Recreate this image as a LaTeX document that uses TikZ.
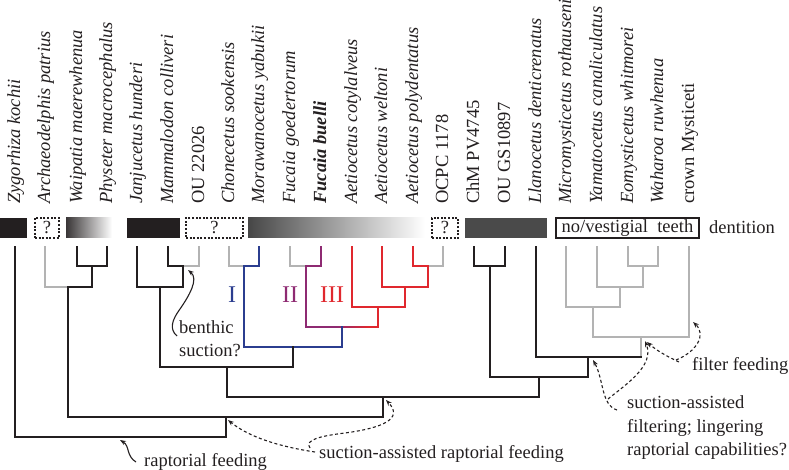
\documentclass[tikz,border=0pt]{standalone}
\usepackage{fontspec}
\setmainfont{Liberation Serif}
\usetikzlibrary{arrows.meta}
\definecolor{ink}{HTML}{231F20}
\definecolor{lgray}{HTML}{B3B3B3}
\definecolor{cblue}{HTML}{2B3D8F}
\definecolor{cpurp}{HTML}{8E2A72}
\definecolor{cred}{HTML}{E0282E}
\definecolor{dbar}{HTML}{4A4A4A}
\begin{document}
\begin{tikzpicture}[x=1pt,y=-1pt,
  br/.style={line width=1.8pt, line cap=rect, line join=miter, draw=ink},
  lab/.style={rotate=90, anchor=base west, inner sep=0pt, text=ink, font=\fontsize{18.5}{20}\selectfont\itshape},
  labr/.style={lab, font=\fontsize{18.5}{20}\selectfont},
  bar/.style={inner sep=0pt, minimum height=20pt, draw=none},
  qbox/.style={inner sep=0pt, minimum height=20pt, draw=ink, line width=1.2pt, dash pattern=on 2pt off 1.6pt, font=\fontsize{18.5}{20}\selectfont, text=ink},
  ann/.style={anchor=base west, inner sep=0pt, text=ink, font=\fontsize{18.5}{22}\selectfont},
  roman/.style={anchor=base, inner sep=0pt, font=\fontsize{24}{26}\selectfont},
  arr/.style={-{Stealth[length=6pt,width=4.5pt]}, line width=1.1pt, draw=ink},
  darr/.style={arr, dash pattern=on 3pt off 2.5pt}]
\useasboundingbox (0,0) rectangle (789,470);

% ---- taxon labels ----
\node[lab]  (L1)  at (20,204)  {Zygorhiza kochii};
\node[lab]  (L2)  at (50,204)  {Archaeodelphis patrius};
\node[lab]  (L3)  at (82,204)  {Waipatia maerewhenua};
\node[lab]  (L4)  at (112,204) {Physeter macrocephalus};
\node[lab]  (L5)  at (142,204) {Janjucetus hunderi};
\node[lab]  (L6)  at (173,204) {Mammalodon colliveri};
\node[labr] (L7)  at (204,204) {OU 22026};
\node[lab]  (L8)  at (234,204) {Chonecetus sookensis};
\node[lab]  (L9)  at (264,204) {Morawanocetus yabukii};
\node[lab]  (L10) at (295,204) {Fucaia goedertorum};
\node[lab]  (L11) at (326,204) {\bfseries Fucaia buelli};
\node[lab]  (L12) at (357,204) {Aetiocetus cotylalveus};
\node[lab]  (L13) at (387,204) {Aetiocetus weltoni};
\node[lab]  (L14) at (418,204) {Aetiocetus polydentatus};
\node[labr] (L15) at (448,204) {OCPC 1178};
\node[labr] (L16) at (479,204) {ChM PV4745};
\node[labr] (L17) at (510,204) {OU GS10897};
\node[lab]  (L18) at (541,204) {Llanocetus denticrenatus};
\node[lab]  (L19) at (571,204) {Micromysticetus rothauseni};
\node[lab]  (L20) at (602,204) {Yamatocetus canaliculatus};
\node[lab]  (L21) at (633,204) {Eomysticetus whitmorei};
\node[lab]  (L22) at (663,204) {Waharoa ruwhenua};
\node[labr] (L23) at (694,204) {crown Mysticeti};

% ---- dentition bar ----
\node[bar, fill=ink, minimum width=27pt] (b1) at (13.5,228) {};
\node[qbox, minimum width=24pt] (b2) at (47,228) {?};
\node[bar, minimum width=46pt, left color=ink!90, right color=white] (b3) at (89,228) {};
\node[bar, fill=ink, minimum width=53pt] (b4) at (153.5,228) {};
\node[qbox, minimum width=57pt] (b5) at (214.5,228) {?};
\node[bar, minimum width=177pt, left color=dbar!95!black, right color=white] (b6) at (336.5,228) {};
\node[qbox, minimum width=26pt] (b7) at (445,228) {?};
\node[bar, fill=dbar, minimum width=82pt] (b8) at (506,228) {};
\node[draw=ink, line width=1.2pt, inner sep=0pt, minimum width=143pt, minimum height=20pt, font=\fontsize{18.5}{20}\selectfont, text=ink] (b9) at (627.5,228) {no/vestigial\ \ teeth};
\node[ann] (dent) at (709,234) {dentition};

% ---- tips ----
\foreach \i/\x in {1/15,2/45,3/77,4/107,5/137,6/168,7/199,8/229,9/259,10/290,11/321,12/352,13/382,14/413,15/443,16/474,17/505,18/536,19/566,20/597,21/628,22/658,23/689}
  \coordinate (t\i) at (\x,247);

% ---- internal nodes ----
\coordinate (nWP)   at (92,266);
\coordinate (nArch) at (68,287);
\coordinate (nMO)   at (183,266);
\coordinate (nJan)  at (160,287);
\coordinate (nCM)   at (244,266);
\coordinate (nFF)   at (306,266);
\coordinate (nAO)   at (428,266);
\coordinate (nAw)   at (405,287);
\coordinate (nAc)   at (378,307);
\coordinate (nFu)   at (342,327);
\coordinate (nI)    at (293,347);
\coordinate (nJI)   at (227,367);
\coordinate (nChM)  at (490,266);
\coordinate (nEW)   at (643,266);
\coordinate (nYam)  at (620,287);
\coordinate (nMic)  at (593,307);
\coordinate (nCr)   at (641,337);
\coordinate (nLl)   at (588,357);
\coordinate (nMy)   at (539,377);
\coordinate (nNeo)  at (383,397);
\coordinate (nCet)  at (226,417);
\coordinate (root)  at (120,437);

% ---- branches ----
\draw[br] (t3) |- (nWP) -| (t4);
\draw[br,draw=lgray] (t2) |- (nArch);
\draw[br] (nWP) |- (nArch);
\draw[br] (t6) |- (nMO);
\draw[br,draw=lgray] (t7) |- (nMO);
\draw[br] (t5) |- (nJan) -| (nMO);
\draw[br,draw=lgray] (t8) |- (nCM);
\draw[br,draw=cblue] (t9) |- (nCM);
\draw[br,draw=lgray] (t10) |- (nFF);
\draw[br,draw=cpurp] (t11) |- (nFF);
\draw[br,draw=cred] (t14) |- (nAO);
\draw[br,draw=lgray] (t15) |- (nAO);
\draw[br,draw=cred] (t13) |- (nAw) -| (nAO);
\draw[br,draw=cred] (t12) |- (nAc) -| (nAw);
\draw[br,draw=cred] (nAc) |- (nFu);
\draw[br,draw=cpurp] (nFF) |- (nFu);
\shade[left color=cpurp, right color=cred] (336,326.1) rectangle (368,327.9);
\draw[br,draw=cblue] (nCM) |- (nI) -| (nFu);
\draw[br] (nJan) |- (nJI) -| (nI);
\draw[br] (t16) |- (nChM) -| (t17);
\draw[br,draw=lgray] (t21) |- (nEW) -| (t22);
\draw[br,draw=lgray] (t20) |- (nYam) -| (nEW);
\draw[br,draw=lgray] (t19) |- (nMic) -| (nYam);
\draw[br,draw=lgray] (nMic) |- (nCr) -| (t23);
\draw[br] (t18) |- (nLl);
\draw[br,draw=lgray] (nCr) -- (nCr |- nLl);
\draw[br] (nCr |- nLl) -- (nLl);
\draw[br] (nChM) |- (nMy) -| (nLl);
\draw[br] (nJI) |- (nNeo) -| (nMy);
\draw[br] (nArch) |- (nCet) -| (nNeo);
\draw[br] (t1) |- (root) -| (nCet);

% ---- clade numerals ----
\node[roman, text=cblue] (rI)   at (232,302) {I};
\node[roman, text=cpurp] (rII)  at (290,302) {II};
\node[roman, text=cred]  (rIII) at (332,302) {III};

% ---- annotations ----
\node[ann] (bent1) at (179,333) {benthic};
\node[ann] (bent2) at (179,356) {suction?};
\coordinate (aB0) at (177,336);
\coordinate (aB1) at (188,270);
\draw[arr] (aB0) .. controls (169,329) and (172,320) .. (180,309) .. controls (189,296) and (199,279) .. (aB1);

\node[ann] (rapt) at (144,466) {raptorial feeding};
\coordinate (aR0) at (136,462);
\coordinate (aR1) at (120,440);
\draw[arr] (aR0) .. controls (126,456) and (130,446) .. (aR1);

\node[ann] (sarf) at (319,458) {suction-assisted raptorial feeding};
\coordinate (aS0) at (315,452);
\coordinate (aS1) at (228,420);
\coordinate (aS2) at (310,448);
\coordinate (aS3) at (386,400);
\draw[darr] (aS0) .. controls (282,447) and (250,438) .. (aS1);
\draw[darr] (aS2) .. controls (304,440) and (320,436) .. (345,433) .. controls (382,428) and (404,419) .. (aS3);

\node[ann] (saf1) at (627,408) {suction-assisted};
\node[ann] (saf2) at (627,432) {filtering; lingering};
\node[ann] (saf3) at (627,455) {raptorial capabilities?};
\coordinate (aF0) at (617,410);
\coordinate (aF1) at (593,360);
\coordinate (aF2) at (608,399);
\coordinate (aF3) at (645,341);
\draw[darr] (aF0) .. controls (601,405) and (604,380) .. (aF1);
\draw[darr] (aF2) .. controls (625,385) and (655,366) .. (aF3);

\node[ann] (filt) at (692,370) {filter feeding};
\coordinate (aG0) at (679,362);
\coordinate (aG1) at (647,342);
\coordinate (aG2) at (676,360);
\coordinate (aG3) at (693,322);
\draw[darr] (aG0) .. controls (666,356) and (656,350) .. (aG1);
\draw[darr] (aG2) .. controls (696,352) and (707,335) .. (aG3);
\end{tikzpicture}
\end{document}
